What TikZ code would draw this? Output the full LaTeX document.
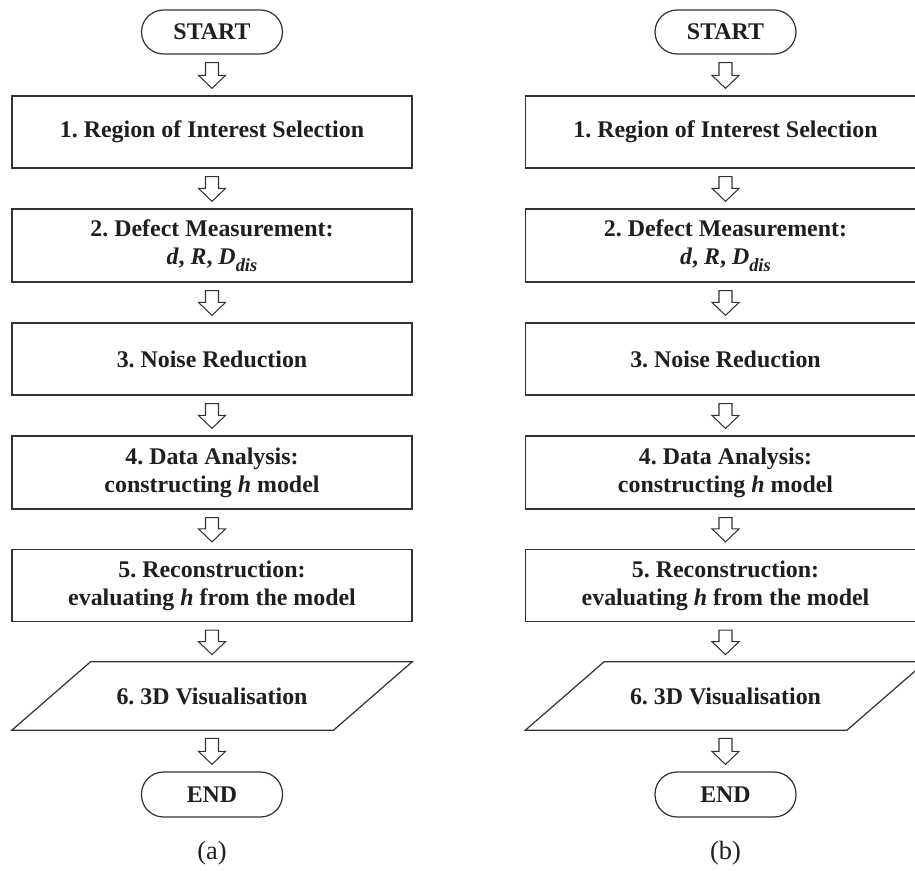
\documentclass[tikz,border=0pt]{standalone}
\usepackage{fontspec}
\setmainfont{Liberation Serif}
\frenchspacing
\usetikzlibrary{calc,positioning}
\tikzset{>=stealth}
\colorlet{linegray}{black!80}
\colorlet{textgray}{black!88}

\tikzset{
  flowtext/.style={font=\fontsize{13.6}{16}\selectfont\bfseries, text=textgray, align=center, inner sep=0pt},
  stepbox/.style={flowtext, draw=linegray, line width=0.7pt, minimum width=8cm, minimum height=1.44cm},
  termbox/.style={flowtext, draw=linegray, line width=0.7pt, rounded corners=0.44cm, minimum width=2.82cm, minimum height=0.88cm},
  iobox/.style={flowtext, minimum width=8cm, minimum height=1.36cm},
  capnode/.style={font=\fontsize{15}{18}\selectfont, text=textgray, inner sep=0pt}
}

% hollow block arrow from one node down to the next
\newcommand{\blockarrow}[2]{%
  \path ($(#1.south)+(0,8)$) coordinate (t) ($(#2.north)+(0,-7)$) coordinate (h);
  \draw[linegray, line width=0.6pt, line join=miter] ($(t)+(-6.5,0)$) -- ($(t)+(6.5,0)$)
    -- ($(h)+(6.5,-13)$) -- ($(h)+(13.5,-13)$) -- (h) -- ($(h)+(-13.5,-13)$)
    -- ($(h)+(-6.5,-13)$) -- cycle;}

% parallelogram around an io node
\newcommand{\slantbox}[1]{%
  \draw[linegray, line width=0.7pt] (#1.south west) -- ($(#1.north west)+(79,0)$)
    -- (#1.north east) -- ($(#1.south east)+(-79,0)$) -- cycle;}

\newcommand{\dvar}{\textit{d}, \textit{R}, \textit{D}\raisebox{-0.3em}{\fontsize{10.5}{12}\selectfont\textit{dis}}}

\begin{document}
\begin{tikzpicture}[x=0.02cm, y=-0.02cm]
  \clip (0,0) rectangle (915,871);

  % (a)
  \node[termbox] (startA) at (212,32) {START};
  \node[stepbox] (roiA) at (212,132) {1. Region of Interest Selection};
  \node[stepbox, minimum height=1.46cm] (defectA) at (212,245.5) {2. Defect Measurement:\\ \dvar};
  \node[stepbox] (noiseA) at (212,359) {3. Noise Reduction};
  \node[stepbox, minimum height=1.46cm] (dataA) at (212,472.5) {4. Data Analysis:\\ constructing \textit{h} model};
  \node[stepbox] (reconA) at (212,585.5) {5. Reconstruction:\\ evaluating \textit{h} from the model};
  \node[iobox] (visA) at (212,696) {6. 3D Visualisation};
  \node[termbox, minimum height=0.9cm] (endA) at (212,794.5) {END};
  \node[capnode] (capA) at (212,853) {(a)};
  \slantbox{visA}
  \blockarrow{startA}{roiA}
  \blockarrow{roiA}{defectA}
  \blockarrow{defectA}{noiseA}
  \blockarrow{noiseA}{dataA}
  \blockarrow{dataA}{reconA}
  \blockarrow{reconA}{visA}
  \blockarrow{visA}{endA}

  % (b)
  \node[termbox] (startB) at (725.5,32) {START};
  \node[stepbox] (roiB) at (725.5,132) {1. Region of Interest Selection};
  \node[stepbox, minimum height=1.46cm] (defectB) at (725.5,245.5) {2. Defect Measurement:\\ \dvar};
  \node[stepbox] (noiseB) at (725.5,359) {3. Noise Reduction};
  \node[stepbox, minimum height=1.46cm] (dataB) at (725.5,472.5) {4. Data Analysis:\\ constructing \textit{h} model};
  \node[stepbox] (reconB) at (725.5,585.5) {5. Reconstruction:\\ evaluating \textit{h} from the model};
  \node[iobox] (visB) at (725.5,696) {6. 3D Visualisation};
  \node[termbox, minimum height=0.9cm] (endB) at (725.5,794.5) {END};
  \node[capnode] (capB) at (725.5,853) {(b)};
  \slantbox{visB}
  \blockarrow{startB}{roiB}
  \blockarrow{roiB}{defectB}
  \blockarrow{defectB}{noiseB}
  \blockarrow{noiseB}{dataB}
  \blockarrow{dataB}{reconB}
  \blockarrow{reconB}{visB}
  \blockarrow{visB}{endB}
\end{tikzpicture}
\end{document}
